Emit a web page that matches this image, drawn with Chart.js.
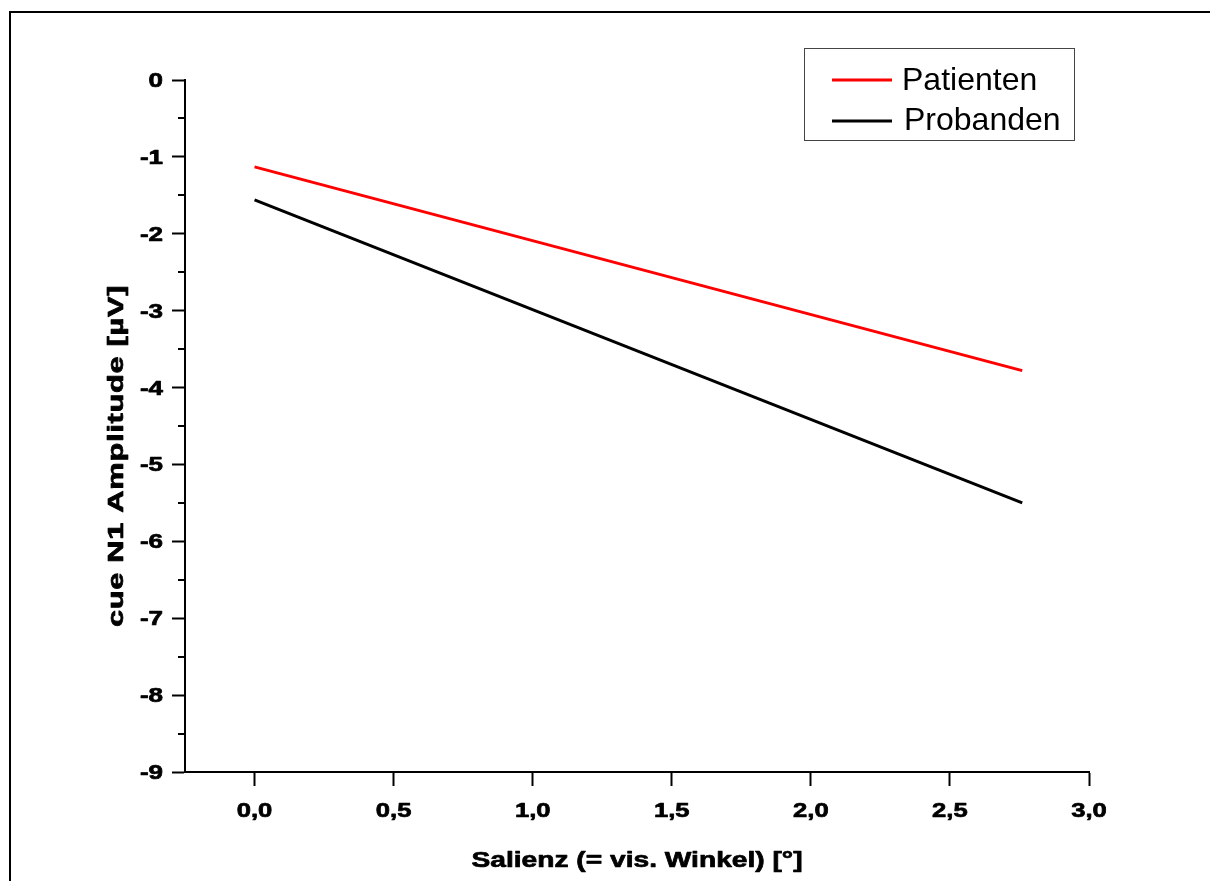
<!DOCTYPE html>
<html>
<head>
<meta charset="utf-8">
<title>cue N1 Amplitude</title>
<script src="https://cdn.jsdelivr.net/npm/chart.js@4/dist/chart.umd.min.js"></script>
<style>
    html, body { margin: 0; padding: 0; background: #fff; }
    #wrap { position: relative; width: 1210px; height: 881px; overflow: hidden; }
    #frame { position: absolute; left: 9px; top: 11px; width: 1300px; height: 1000px;
             border-left: 2px solid #000; border-top: 2px solid #000; }
    #chart { position: absolute; left: 0; top: 0; }
</style>
</head>
<body>
<div id="wrap">
    <div id="frame"></div>
    <canvas id="chart" width="1210" height="881"></canvas>
</div>
<script>
// regression lines: salience (visual angle) vs. cue N1 amplitude
const xValues = [0, 2.76];
const patienten = [-1.13, -3.78];
const probanden = [-1.56, -5.50];
const seriesNames = ['Patienten', 'Probanden'];

const xTicks = [0, 0.5, 1, 1.5, 2, 2.5, 3];
const yTicks = [0, -1, -2, -3, -4, -5, -6, -7, -8, -9];
const yMinorTicks = [-0.5, -1.5, -2.5, -3.5, -4.5, -5.5, -6.5, -7.5, -8.5];

const Y_LABEL_FONT = 'bold 20px "Liberation Sans", Arial, sans-serif';
const X_LABEL_FONT = 'bold 21px "Liberation Sans", Arial, sans-serif';
const TITLE_FONT = 'bold 22px "Liberation Sans", Arial, sans-serif';
const LEGEND_FONT = '32px "Liberation Sans", Arial, sans-serif';

function toPoints(ys) {
    return xValues.map((x, i) => ({ x: x, y: ys[i] }));
}

function formatX(v) {
    return v.toFixed(1).replace('.', ',');
}

// heavy, widened text like the original plotting software draws it
function drawWide(ctx, text, x, y, align, sx, angle, spacing) {
    ctx.save();
    ctx.translate(x, y);
    if (angle) ctx.rotate(angle);
    ctx.scale(sx, 1);
    ctx.letterSpacing = (spacing || 0) + 'px';
    ctx.textAlign = align;
    ctx.textBaseline = 'alphabetic';
    ctx.lineWidth = 0.7;
    ctx.lineJoin = 'round';
    ctx.fillText(text, 0, 0);
    ctx.strokeText(text, 0, 0);
    ctx.restore();
}

const axisDecor = {
    id: 'axisDecor',
    afterDraw(chart) {
        const ctx = chart.ctx;
        const xs = chart.scales.x;
        const ys = chart.scales.y;
        const area = chart.chartArea;

        ctx.save();
        ctx.strokeStyle = '#000';
        ctx.fillStyle = '#000';
        ctx.lineWidth = 2;

        // minor ticks on the y axis
        yMinorTicks.forEach(v => {
            const py = Math.round(ys.getPixelForValue(v));
            ctx.beginPath();
            ctx.moveTo(area.left - 7, py);
            ctx.lineTo(area.left, py);
            ctx.stroke();
        });

        // tick labels
        ctx.font = Y_LABEL_FONT;
        ys.ticks.forEach(t => {
            const py = ys.getPixelForValue(t.value);
            drawWide(ctx, String(t.value), area.left - 22, py + 7, 'right', 1.3);
        });
        ctx.font = X_LABEL_FONT;
        xs.ticks.forEach(t => {
            const px = xs.getPixelForValue(t.value);
            drawWide(ctx, formatX(t.value), px, 817, 'center', 1.22);
        });

        // axis titles
        ctx.font = TITLE_FONT;
        drawWide(ctx, 'Salienz (= vis. Winkel) [°]', (area.left + area.right) / 2, 867, 'center', 1.28, 0, 0);
        drawWide(ctx, 'cue N1 Amplitude [µV]', 123, 456, 'center', 1.4, -Math.PI / 2, 0.5);

        // legend box
        ctx.lineWidth = 1;
        ctx.strokeStyle = '#444';
        ctx.strokeRect(804.5, 48.5, 270, 92);
        ctx.font = LEGEND_FONT;
        const rows = [{ y: 80, tx: 902, ty: 90 }, { y: 121, tx: 904, ty: 130 }];
        chart.data.datasets.forEach((ds, i) => {
            const r = rows[i];
            ctx.strokeStyle = ds.borderColor;
            ctx.lineWidth = 3;
            ctx.beginPath();
            ctx.moveTo(832, r.y);
            ctx.lineTo(892, r.y);
            ctx.stroke();
            ctx.fillStyle = '#000';
            ctx.textAlign = 'left';
            ctx.fillText(ds.label, r.tx, r.ty);
        });
        ctx.restore();
    }
};

new Chart(document.getElementById('chart').getContext('2d'), {
    type: 'scatter',
    data: {
        datasets: [
            {
                label: seriesNames[0],
                data: toPoints(patienten),
                showLine: true,
                borderColor: '#ff0000',
                borderWidth: 3,
                pointRadius: 0
            },
            {
                label: seriesNames[1],
                data: toPoints(probanden),
                showLine: true,
                borderColor: '#000000',
                borderWidth: 3,
                pointRadius: 0
            }
        ]
    },
    options: {
        responsive: false,
        animation: false,
        devicePixelRatio: 1,
        layout: { padding: { left: 0, top: 80, right: 121, bottom: 0 } },
        plugins: {
            legend: { display: false },
            tooltip: { enabled: false }
        },
        scales: {
            x: {
                type: 'linear',
                min: -0.25,
                max: 3,
                afterBuildTicks: s => { s.ticks = xTicks.map(v => ({ value: v })); },
                afterFit: s => { s.height = 109; },
                border: { display: true, color: '#000', width: 2 },
                grid: { drawOnChartArea: false, drawTicks: true, tickLength: 14, tickWidth: 2, tickColor: '#000' },
                ticks: { display: false }
            },
            y: {
                type: 'linear',
                min: -9,
                max: 0,
                afterBuildTicks: s => { s.ticks = yTicks.map(v => ({ value: v })); },
                afterFit: s => { s.width = 185; },
                border: { display: true, color: '#000', width: 2 },
                grid: { drawOnChartArea: false, drawTicks: true, tickLength: 13, tickWidth: 2, tickColor: '#000' },
                ticks: { display: false }
            }
        }
    },
    plugins: [axisDecor]
});
</script>
</body>
</html>
